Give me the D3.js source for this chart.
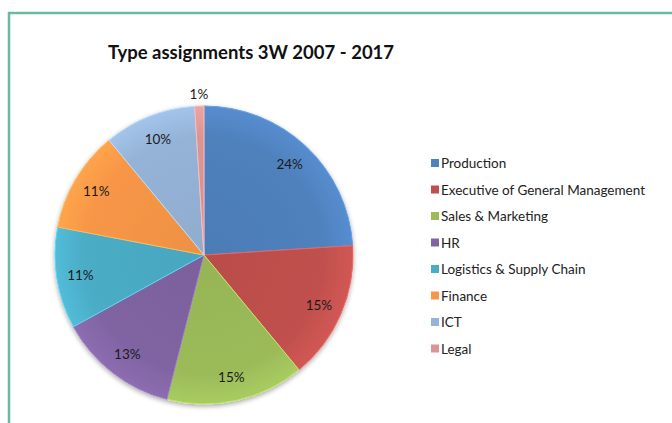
<!DOCTYPE html>
<html>
<head>
<meta charset="utf-8">
<script src="https://cdn.jsdelivr.net/npm/d3@7"></script>
<style>
  body { margin: 0; background: #fff; }
  text { font-family: Lato, "Open Sans", sans-serif; }
</style>
</head>
<body>
<div id="container"></div>
<script>
const categories = ['Production', 'Executive of General Management', 'Sales & Marketing', 'HR',
    'Logistics & Supply Chain', 'Finance', 'ICT', 'Legal'];
const shares = [24, 15, 15, 13, 11, 11, 10, 1];
const colors = ['#4F81BD', '#C0504D', '#9BBB59', '#8064A2', '#4BACC6', '#F79646', '#95B3D7', '#D99694'];

const config = {
    width: 672,
    height: 423,
    cx: 204,
    cy: 255,
    radius: 149,
}

const svg = d3.select('#container')
    .append('svg')
    .attr('width', config.width)
    .attr('height', config.height)

// frame
svg.append('path')
    .attr('d', `M9,${config.height} V13 H${config.width}`)
    .attr('fill', 'none')
    .attr('stroke', '#6cb9a2')
    .attr('stroke-width', 2.5)

svg.append('text')
    .attr('x', 251)
    .attr('y', 59)
    .attr('text-anchor', 'middle')
    .style('font-size', '18.5px')
    .style('font-weight', 'bold')
    .style('fill', '#111')
    .text('Type assignments 3W 2007 - 2017')

const color = d3.scaleOrdinal().domain(categories).range(colors)

const defs = svg.append('defs')
categories.forEach((c, i) => {
    const g = defs.append('radialGradient')
        .attr('id', `grad${i}`)
        .attr('gradientUnits', 'userSpaceOnUse')
        .attr('cx', 0).attr('cy', 0).attr('r', config.radius)
    const base = d3.color(color(c))
    g.append('stop').attr('offset', '0%').attr('stop-color', base.darker(0.1))
    g.append('stop').attr('offset', '80%').attr('stop-color', base)
    g.append('stop').attr('offset', '100%').attr('stop-color', base.brighter(0.25))
})

const shadow = defs.append('filter').attr('id', 'shadow')
    .attr('x', '-10%').attr('y', '-10%').attr('width', '120%').attr('height', '120%')
shadow.append('feGaussianBlur').attr('in', 'SourceAlpha').attr('stdDeviation', 2.5)
shadow.append('feOffset').attr('dx', 0).attr('dy', 2).attr('result', 'b')
shadow.append('feComponentTransfer').append('feFuncA').attr('type', 'linear').attr('slope', 0.35)
const merge = shadow.append('feMerge')
merge.append('feMergeNode')
merge.append('feMergeNode').attr('in', 'SourceGraphic')

const pieData = d3.pie().sort(null)(shares)
const arc = d3.arc().innerRadius(0).outerRadius(config.radius)
const labelArc = d3.arc().innerRadius(config.radius * 0.84).outerRadius(config.radius * 0.84)
const outerArc = d3.arc().innerRadius(config.radius + 12).outerRadius(config.radius + 12)

const pie = svg.append('g')
    .attr('transform', `translate(${config.cx},${config.cy})`)

pie.append('g').attr('filter', 'url(#shadow)')
    .selectAll('path')
    .data(pieData)
    .join('path')
    .attr('d', arc)
    .attr('fill', (d, i) => `url(#grad${i})`)
    .attr('stroke', (d, i) => d3.color(colors[i]).brighter(0.6))
    .attr('stroke-width', 1)

pie.selectAll('text')
    .data(pieData)
    .join('text')
    .attr('transform', d => `translate(${(d.value < 3 ? outerArc : labelArc).centroid(d)})`)
    .attr('text-anchor', 'middle')
    .attr('dominant-baseline', 'central')
    .style('font-size', '13.5px')
    .style('fill', '#1a1a1a')
    .text(d => d.value + '%')

const legend = svg.append('g').attr('class', 'legend')

legend.selectAll('rect')
    .data(categories)
    .join('rect')
    .attr('x', 431)
    .attr('y', (_, i) => 159 + 26.5 * i)
    .attr('width', 8)
    .attr('height', 8)
    .attr('fill', d => color(d))

legend.selectAll('text')
    .data(categories)
    .join('text')
    .attr('x', 441)
    .attr('y', (_, i) => 163 + 26.5 * i)
    .attr('dominant-baseline', 'central')
    .style('font-size', '13.5px')
    .style('fill', '#222')
    .text(d => d)
</script>
</body>
</html>
